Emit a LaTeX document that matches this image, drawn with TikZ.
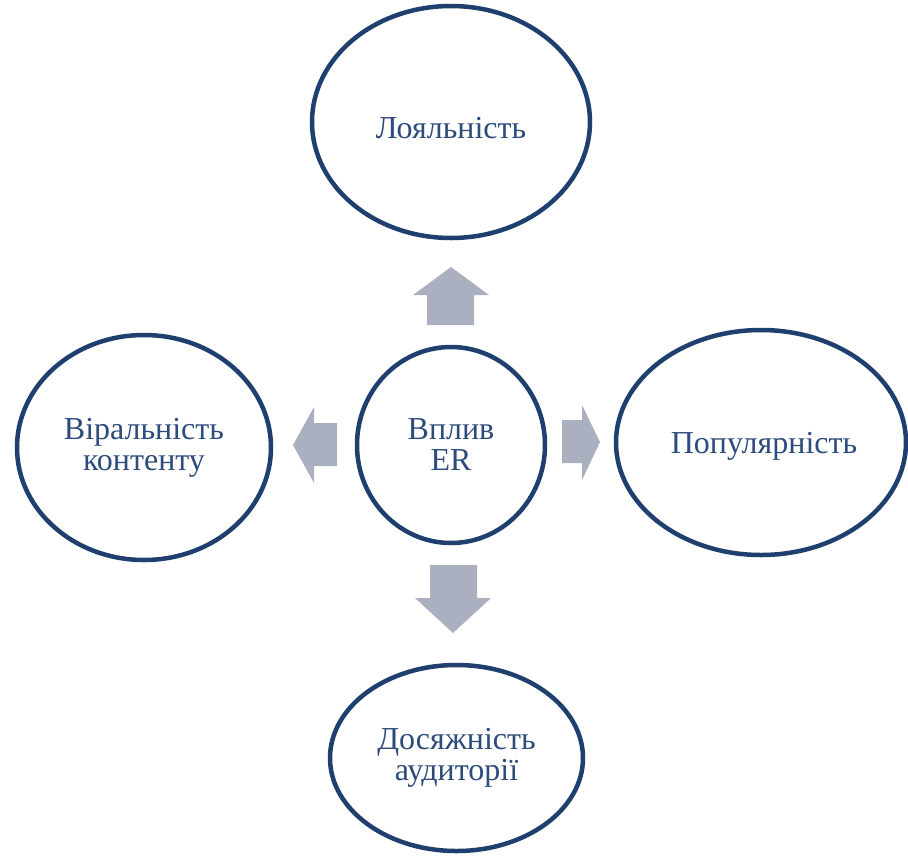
\documentclass[tikz,border=0pt]{standalone}
\usepackage{fontspec}
\setmainfont{Liberation Serif}
\usetikzlibrary{shapes.geometric}
\definecolor{edgeblue}{HTML}{1F3F6E}
\definecolor{txtblue}{HTML}{2D4C7C}
\definecolor{arrowgray}{HTML}{AAB0C0}
\tikzset{
  bubble/.style={ellipse, draw=edgeblue, line width=4.5pt, fill=white, text=txtblue,
    align=center, inner sep=0pt, font=\fontsize{32}{31}\selectfont},
  blockarrow/.style={fill=arrowgray, draw=none}
}
\begin{document}
\begin{tikzpicture}[x=1pt,y=-1pt]
\useasboundingbox (0,0) rectangle (908,855);
\node[bubble, minimum width=278pt, minimum height=232pt, text height=32pt, text depth=0pt] (top) at (451,122) {Лояльність};
\node[bubble, minimum width=254pt, minimum height=225pt] (left) at (144,447.5) {Віральність\\контенту};
\node[bubble, minimum width=188pt, minimum height=196pt] (center) at (451,445) {Вплив\\ER};
\node[bubble, minimum width=290pt, minimum height=225pt, text height=28pt, text depth=7pt] (right) at (761,442.5) {\hspace*{6pt}Популярність};
\node[bubble, minimum width=253pt, minimum height=186pt] (bottom) at (456.5,758) {Досяжність\\аудиторії};
% up arrow
\fill[blockarrow] (427,325) -- (427,295) -- (413,295) -- (451,267) -- (489,295) -- (474,295) -- (474,325) -- cycle;
% left arrow
\fill[blockarrow] (337,423) -- (314,423) -- (314,407) -- (293,445) -- (314,483) -- (314,466) -- (337,466) -- cycle;
% right arrow
\fill[blockarrow] (562,420) -- (582,420) -- (582,405) -- (600,442) -- (582,480) -- (582,463) -- (562,463) -- cycle;
% down arrow
\fill[blockarrow] (430,565) -- (477,565) -- (477,598) -- (491,598) -- (453,633) -- (415,598) -- (430,598) -- cycle;
\end{tikzpicture}
\end{document}
